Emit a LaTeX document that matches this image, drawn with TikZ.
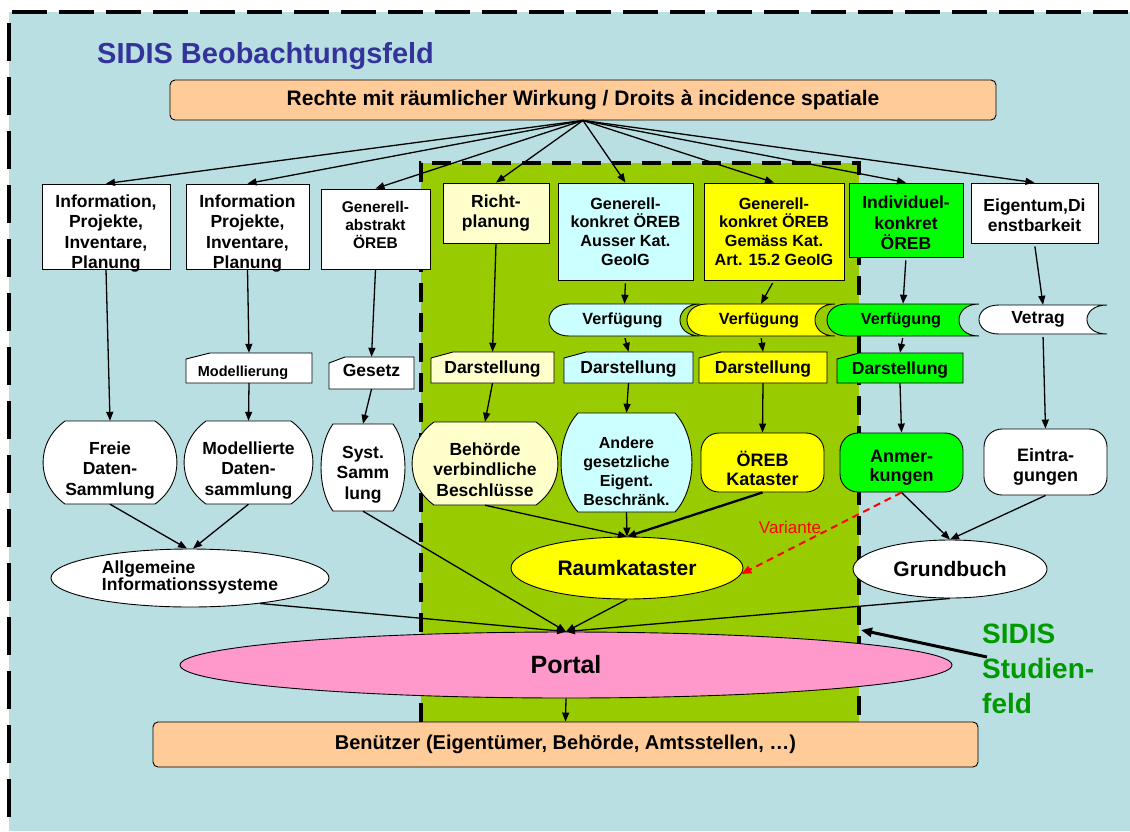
\documentclass[tikz,border=0pt]{standalone}
\usepackage{fontspec}
\setmainfont{Liberation Sans}
\usetikzlibrary{arrows.meta,shapes.geometric,calc}
\definecolor{bgblue}{RGB}{185,223,227}
\definecolor{cOlive}{RGB}{153,204,0}
\definecolor{peach}{RGB}{255,204,153}
\definecolor{lyellow}{RGB}{255,255,204}
\definecolor{lcyan}{RGB}{204,255,255}
\definecolor{yel}{RGB}{255,255,0}
\definecolor{grn}{RGB}{0,255,0}
\definecolor{pinkc}{RGB}{255,153,204}
\definecolor{titleblue}{RGB}{51,51,153}
\definecolor{studgreen}{RGB}{0,153,0}
\newcommand{\fs}[2]{\fontsize{#1}{#2}\selectfont}
\tikzset{
  arr/.style={line width=1.3pt, -{Triangle[length=9pt,width=7pt]}},
  outl/.style={draw=black, line width=0.9pt},
  txt/.style={align=center, inner sep=0pt},
  f14/.style={font=\fs{14.5}{17}\bfseries},
  f15/.style={font=\fs{15.5}{18}\bfseries},
  f16/.style={font=\fs{16.2}{18.7}\bfseries},
  f16a/.style={font=\fs{16}{19}\bfseries},
  f17/.style={font=\fs{17.5}{20.5}\bfseries},
  f18/.style={font=\fs{18}{19.5}\bfseries},
}
% name L T R B fill opts text
\newcommand{\rectbox}[8]{%
  \node[outl, fill=#6, inner sep=0pt, minimum width={#4pt-#2pt}, minimum height={#5pt-#3pt}] (#1) at ({(#2+#4)/2},{(#3+#5)/2}) {};
  \node[txt,#7] (#1-t) at (#1.center) {#8};}
\newcommand{\rrectbox}[8]{%
  \node[outl, fill=#6, rounded corners=18pt, inner sep=0pt, minimum width={#4pt-#2pt}, minimum height={#5pt-#3pt}] (#1) at ({(#2+#4)/2},{(#3+#5)/2}) {};
  \node[txt,#7] (#1-t) at (#1.center) {#8};}
% stored data: name L T R B fill opts text
\newcommand{\storedbox}[8]{%
  \filldraw[fill=#6, line width=0.9pt] (#2+20,#3) -- (#4,#3) .. controls (#4-26.7,#3) and (#4-26.7,#5) .. (#4,#5) -- (#2+20,#5) .. controls (#2-6.7,#5) and (#2-6.7,#3) .. (#2+20,#3) -- cycle;
  \node[inner sep=0pt, minimum width={#4pt-#2pt}, minimum height={#5pt-#3pt}] (#1) at ({(#2+#4)/2},{(#3+#5)/2}) {};
  \node[txt,#7] (#1-t) at (#1.center) {#8};}
% card: name L T R B fill dx opts text
\newcommand{\cardbox}[9]{%
  \filldraw[fill=#6, line width=0.9pt] (#2,#3+6) -- (#2+#7,#3) -- (#4,#3) -- (#4,#5) -- (#2,#5) -- cycle;
  \node[inner sep=0pt, minimum width={#4pt-#2pt}, minimum height={#5pt-#3pt}] (#1) at ({(#2+#4)/2},{(#3+#5)/2}) {};
  \node[txt,#8] (#1-t) at (#1.center) {#9};}
% barrel: name L T R B r fill opts text
\newcommand{\barrelbox}[9]{%
  \filldraw[fill=#7, line width=0.9pt] (#2+#6,#3) -- (#4-#6,#3)
    .. controls (#4+0.33*#6,#3+0.25*#5-0.25*#3) and (#4+0.33*#6,#5-0.25*#5+0.25*#3) .. (#4-#6,#5)
    -- (#2+#6,#5)
    .. controls (#2-0.33*#6,#5-0.25*#5+0.25*#3) and (#2-0.33*#6,#3+0.25*#5-0.25*#3) .. (#2+#6,#3) -- cycle;
  \node[inner sep=0pt, minimum width={#4pt-#2pt}, minimum height={#5pt-#3pt}] (#1) at ({(#2+#4)/2},{(#3+#5)/2}) {};
  \node[txt,#8] (#1-t) at (#1.center) {#9};}

\begin{document}
\begin{tikzpicture}[x=1pt,y=-1pt]
\useasboundingbox (0,0) rectangle (1130,831);
\fill[white] (0,0) rectangle (1130,831);
\fill[bgblue] (9,12) rectangle (1130,831);
\draw[line width=4.5pt, dash pattern=on 35pt off 12pt] (12,12) -- (1130,12);
\draw[line width=4.5pt, dash pattern=on 38pt off 16pt, dash phase=43pt] (9,12) -- (9,831);
% study field
\fill[cOlive] (421,163) rectangle (859,722);
\draw[line width=3.5pt, dash pattern=on 19pt off 11pt] (421,722) -- (421,163) -- (859,163) -- (859,722);

% titles
\node[anchor=west, inner sep=0pt, text=titleblue, font=\fs{29}{32}\bfseries] (title) at (97,56) {SIDIS Beobachtungsfeld};
\node[outl, fill=peach, rounded corners=5pt, inner sep=0pt, minimum width=826pt, minimum height=40pt, font=\fs{21}{24}\bfseries] (rechte) at (583,100) {Rechte mit räumlicher Wirkung / Droits à incidence spatiale};

% top row
\rectbox{info1}{42}{184}{170}{269}{white}{f17,yshift=-7pt}{Information,\\Projekte,\\Inventare,\\Planung}
\rectbox{info2}{186}{184}{309}{269}{white}{f17,yshift=-7pt}{Information\\Projekte,\\Inventare,\\Planung}
\rectbox{gena}{321}{189}{430}{269}{white}{f15,yshift=4pt}{Generell-\\abstrakt\\ÖREB}
\rectbox{richt}{443}{183}{549}{243}{lyellow}{f17}{Richt-\\planung}
\rectbox{gkc}{558}{183}{693}{280}{lcyan}{f16}{Generell-\\konkret ÖREB\\Ausser Kat.\\GeoIG}
\rectbox{gky}{704}{183}{844}{280}{yel}{f16}{Generell-\\konkret ÖREB\\Gemäss Kat.\\Art. 15.2 GeoIG}
\rectbox{ikc}{849}{183}{963}{257}{grn}{f17,yshift=-3pt}{Individuel-\\konkret\\ÖREB}
\rectbox{eig}{971}{183}{1098}{243}{white}{f17,yshift=-2pt}{Eigentum,Di\\enstbarkeit}

% Verfuegung row
\storedbox{vc}{549}{304}{700}{336}{lcyan}{f16,xshift=-2pt}{Verfügung}
\storedbox{vy}{687}{304}{835}{336}{yel}{f16,xshift=-2pt}{Verfügung}
\storedbox{vg}{827}{304}{979}{336}{grn}{f16,xshift=-2pt}{Verfügung}
\storedbox{vw}{979}{305}{1107}{334}{white}{f17,xshift=-5pt}{Vetrag}

% Darstellung row
\cardbox{modl}{186}{353}{312}{383}{white}{24}{f14,xshift=-6pt,yshift=-5pt}{Modellierung}
\cardbox{ges}{329}{357}{414}{389}{white}{16}{f17,yshift=3pt}{Gesetz}
\cardbox{dly}{431}{352}{554}{383}{lyellow}{22}{f17,yshift=-2pt}{Darstellung}
\cardbox{dc}{564}{352}{693}{383}{lcyan}{22}{f17,yshift=-2pt}{Darstellung}
\cardbox{dy}{699}{352}{827}{383}{yel}{22}{f17,yshift=-2pt}{Darstellung}
\cardbox{dg}{837}{353}{963}{383}{grn}{22}{f17,yshift=-2pt}{Darstellung}

% collections
\barrelbox{freie}{43}{421}{177}{504}{22}{white}{f17,yshift=-8pt}{Freie\\Daten-\\Sammlung}
\barrelbox{modd}{184}{421}{313}{504}{22}{white}{f17,yshift=-8pt}{Modellierte\\Daten-\\sammlung}
\barrelbox{syst}{321}{424}{405}{511}{12}{white}{f17,yshift=-7pt}{Syst.\\Samm\\lung}
\barrelbox{beh}{412}{422}{558}{505}{22}{lyellow}{f17,yshift=-6pt}{Behörde\\verbindliche\\Beschlüsse}
\barrelbox{andr}{561}{413}{692}{512}{17}{lcyan}{f16a,yshift=-9pt}{Andere\\gesetzliche\\Eigent.\\Beschränk.}
\rrectbox{oreb}{701}{433}{824}{492}{yel}{f18,yshift=-6pt}{ÖREB\\Kataster}
\rrectbox{anm}{840}{433}{963}{492}{grn}{f18,yshift=-5pt}{Anmer-\\kungen}
\rrectbox{ein}{984}{429}{1107}{495}{white}{f18,yshift=-5pt}{Eintra-\\gungen}

% ellipses
\node[ellipse, outl, fill=white, inner sep=0pt, minimum width=278pt, minimum height=58pt] (allg) at (190,578) {};
\node[txt, align=left, font=\fs{17.5}{17}\bfseries] (allg-t) at (190,577) {Allgemeine\\Informationssysteme};
\node[ellipse, outl, fill=yel, inner sep=0pt, minimum width=232pt, minimum height=62pt, font=\fs{21}{24}\bfseries] (raum) at (627,568) {Raumkataster};
\node[ellipse, outl, fill=white, inner sep=0pt, minimum width=194pt, minimum height=58pt, font=\fs{21}{24}\bfseries] (grund) at (950,569) {Grundbuch};
\node[ellipse, outl, fill=pinkc, inner sep=0pt, minimum width=772pt, minimum height=66pt, font=\fs{25}{28}\bfseries] (portal) at (566,665) {Portal};
\node[outl, fill=peach, rounded corners=5pt, inner sep=0pt, minimum width=825pt, minimum height=45pt, font=\fs{20}{24}\bfseries] (ben) at (565.5,744.5) {Benützer (Eigentümer, Behörde, Amtsstellen, …)};

% labels
\node[anchor=north west, align=left, inner sep=0pt, text=studgreen, font=\fs{28}{35}\bfseries] (stud) at (982,624) {SIDIS\\Studien-\\feld};
\coordinate (studtip) at (861,630);
\node[text=red, inner sep=0pt, font=\fs{17}{20}] (var) at (790,527) {Variante};

% connectors
\foreach \t in {info1,info2,gena,richt,gkc,gky,ikc,eig}
  \draw[arr] (rechte.south) -- (\t.north);
\draw[arr] (info1.south) -- (freie.north);
\draw[arr] (info2.south) -- (modl.north);
\draw[arr] (modl.south) -- (modd.north);
\draw[arr] (gena.south) -- (ges.north);
\draw[arr] (ges.south) -- (syst.north);
\draw[arr] (richt.south) -- (dly.north);
\draw[arr] (dly.south) -- (beh.north);
\draw[arr, shorten <=3pt] (gkc.south) -- (vc.north);
\draw[arr, shorten <=2pt] (vc.south) -- (dc.north);
\draw[arr] (dc.south) -- (andr.north);
\draw[arr, shorten <=3pt] (gky.south) -- (vy.north);
\draw[arr, shorten <=2pt] (vy.south) -- (dy.north);
\draw[arr] (dy.south) -- (oreb.north);
\draw[arr, shorten <=3pt] (ikc.south) -- (vg.north);
\draw[arr, shorten <=2pt] (vg.south) -- (dg.north);
\draw[arr] (dg.south) -- (anm.north);
\draw[arr, shorten <=3pt] (eig.south) -- (vw.north);
\draw[arr, shorten <=3pt] (vw.south) -- (ein.north);
\draw[arr] (freie.south) -- ([xshift=-3pt]allg.north);
\draw[arr] (modd.south) -- ([xshift=3pt]allg.north);
\draw[arr] (beh.south) -- (raum.north);
\draw[arr] (andr.south) -- (raum.north);
\draw[arr, line width=2.3pt] (oreb.south) -- (raum.north);
\draw[arr] (anm.south) -- (grund.north);
\draw[arr] (ein.south) -- (grund.north);
\draw[red, line width=2pt, dash pattern=on 7pt off 5pt, -{Triangle[length=10pt,width=8pt]}] (anm.south) -- (raum.-3);
\draw[arr] (allg.-20) -- (portal.north);
\draw[arr] (syst.south) -- (portal.north);
\draw[arr] (raum.south) -- (portal.north);
\draw[arr] (grund.south) -- (portal.north);
\draw[arr] (portal.south) -- (ben.north);
\draw[line width=3pt, -{Triangle[length=11pt,width=9pt]}] ([shift={(5pt,-33pt)}]stud.north west) -- (studtip);
\end{tikzpicture}
\end{document}
